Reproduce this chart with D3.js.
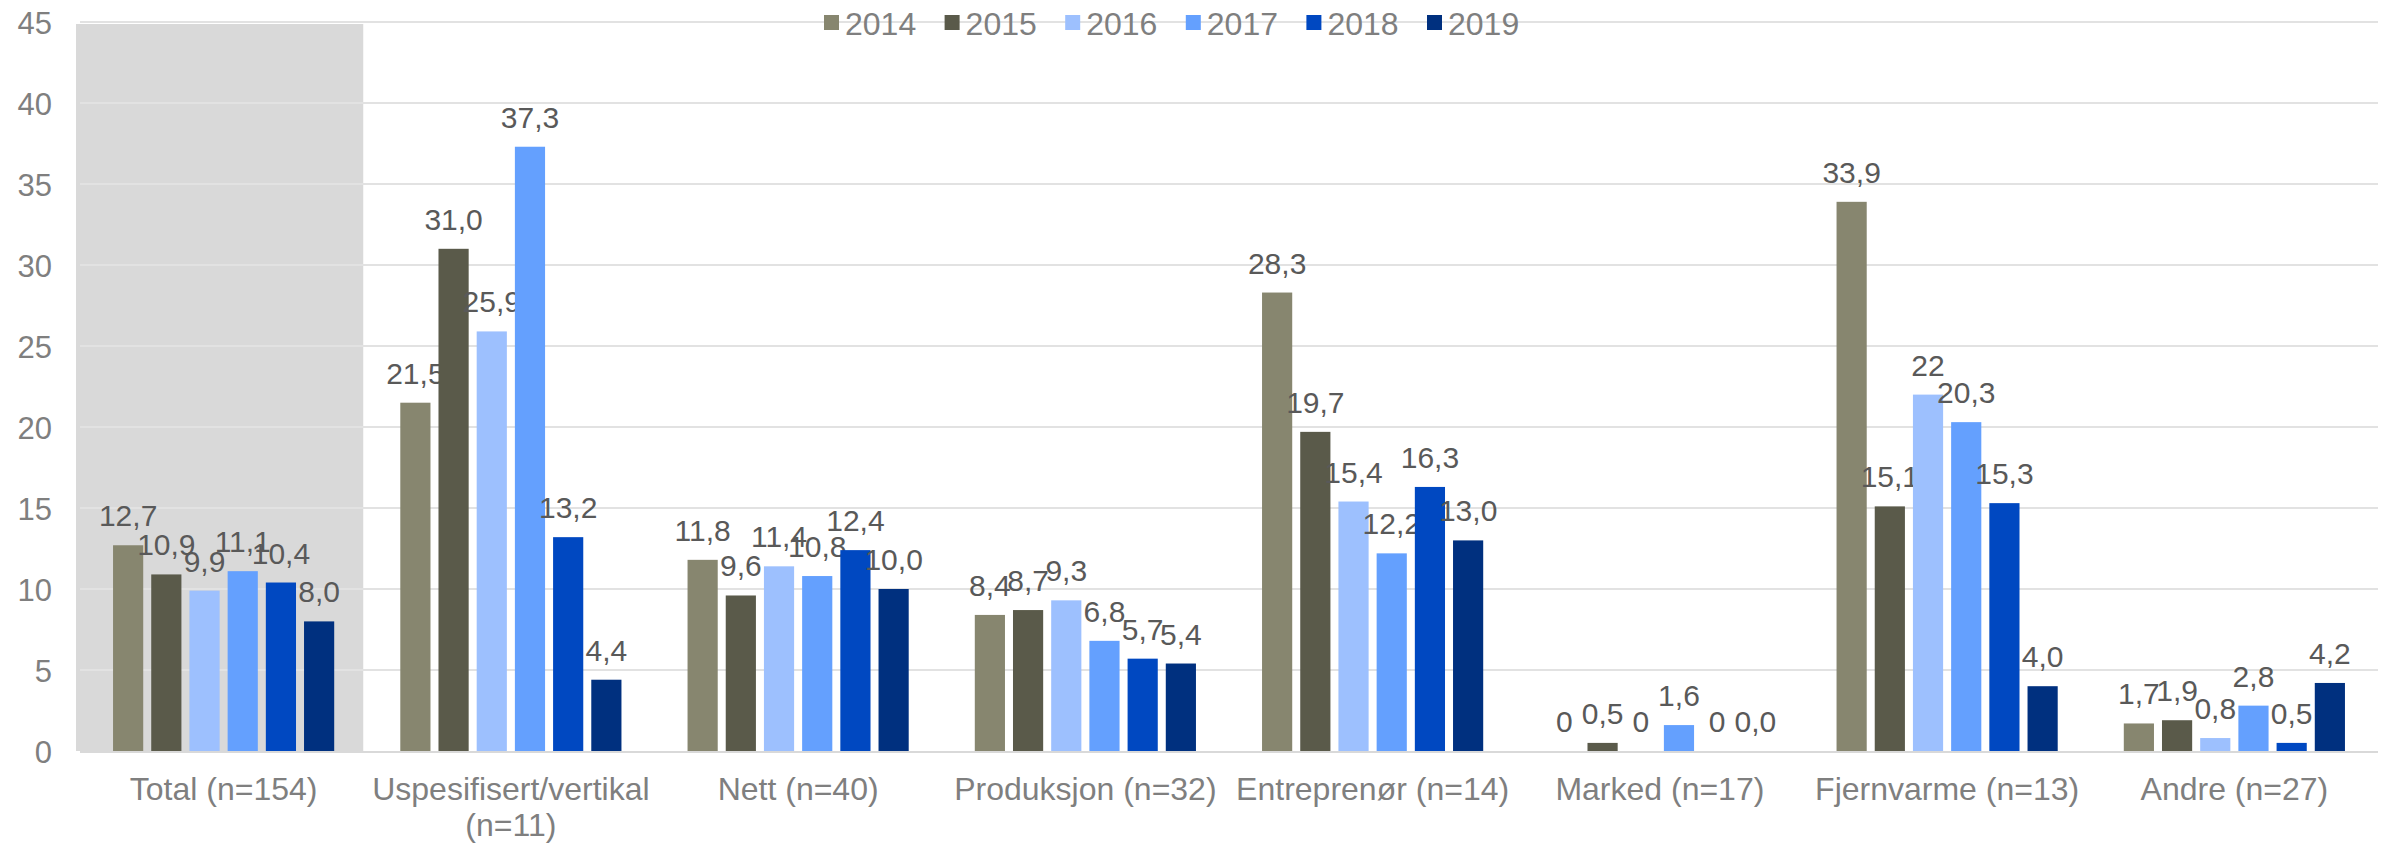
<!DOCTYPE html>
<html>
<head>
<meta charset="utf-8">
<script src="https://cdn.jsdelivr.net/npm/d3@7"></script>
<style>
  body { margin: 0; background: #fff; }
  svg { display: block; font-family: "Liberation Sans", Arial, sans-serif; }
</style>
</head>
<body>
<svg></svg>
<script>
// Set up SVG for D3.
var width = 2387,
    height = 844;

var svg = d3.select("svg")
    .attr("width", width)
    .attr("height", height);

var categories = ["Total (n=154)", "Uspesifisert/vertikal (n=11)", "Nett (n=40)", "Produksjon (n=32)",
                  "Entreprenør (n=14)", "Marked (n=17)", "Fjernvarme (n=13)", "Andre (n=27)"];
// wrapped x-axis labels, one array of lines per category
var categoryLines = [["Total (n=154)"], ["Uspesifisert/vertikal", "(n=11)"], ["Nett (n=40)"], ["Produksjon (n=32)"],
                     ["Entreprenør (n=14)"], ["Marked (n=17)"], ["Fjernvarme (n=13)"], ["Andre (n=27)"]];

var years = ["2014", "2015", "2016", "2017", "2018", "2019"];
var colors = ["#87866f", "#5a5a4a", "#9dc0fe", "#64a0fe", "#0048c1", "#00307f"];

// one array per year, same order as categories
var v2014 = [12.7, 21.5, 11.8, 8.4, 28.3, 0, 33.9, 1.7];
var v2015 = [10.9, 31.0, 9.6, 8.7, 19.7, 0.5, 15.1, 1.9];
var v2016 = [9.9, 25.9, 11.4, 9.3, 15.4, 0, 22, 0.8];
var v2017 = [11.1, 37.3, 10.8, 6.8, 12.2, 1.6, 20.3, 2.8];
var v2018 = [10.4, 13.2, 12.4, 5.7, 16.3, 0, 15.3, 0.5];
var v2019 = [8.0, 4.4, 10.0, 5.4, 13.0, 0.0, 4.0, 4.2];

// data labels as printed (some are shown without decimals)
var l2014 = ["12,7", "21,5", "11,8", "8,4", "28,3", "0", "33,9", "1,7"];
var l2015 = ["10,9", "31,0", "9,6", "8,7", "19,7", "0,5", "15,1", "1,9"];
var l2016 = ["9,9", "25,9", "11,4", "9,3", "15,4", "0", "22", "0,8"];
var l2017 = ["11,1", "37,3", "10,8", "6,8", "12,2", "1,6", "20,3", "2,8"];
var l2018 = ["10,4", "13,2", "12,4", "5,7", "16,3", "0", "15,3", "0,5"];
var l2019 = ["8,0", "4,4", "10,0", "5,4", "13,0", "0,0", "4,0", "4,2"];

var yTicks = [0, 5, 10, 15, 20, 25, 30, 35, 40, 45];

var series = [v2014, v2015, v2016, v2017, v2018, v2019];
var labels = [l2014, l2015, l2016, l2017, l2018, l2019];

var margin = { left: 80, right: 9, top: 22, bottom: 93 };

var x0 = d3.scaleBand()
    .domain(categories)
    .range([margin.left, width - margin.right]);

var x1 = d3.scaleBand()
    .domain(years)
    .range([0, x0.bandwidth()])
    .paddingInner(0.21)
    .paddingOuter(0.865);

var y = d3.scaleLinear()
    .domain([0, 45])
    .range([height - margin.bottom, margin.top]);

// grey highlight behind the Total group
svg.append("rect")
    .attr("x", x0(categories[0]) - 4)
    .attr("y", y(45) + 2)
    .attr("width", x0.bandwidth())
    .attr("height", y(0) - y(45) - 2)
    .attr("fill", "#d9d9d9");

// gridlines
svg.append("g")
  .selectAll("line")
    .data(yTicks.slice(1))
  .enter().append("line")
    .attr("x1", margin.left)
    .attr("x2", width - margin.right)
    .attr("y1", function(d) { return y(d); })
    .attr("y2", function(d) { return y(d); })
    .attr("stroke", "#e2e2e2")
    .attr("stroke-width", 2);

// y axis labels
var yAxis = d3.axisLeft(y).tickValues(yTicks).tickSize(0).tickPadding(0);
svg.append("g")
    .attr("transform", "translate(52,0)")
    .call(yAxis)
    .call(function(g) { g.select(".domain").remove(); })
    .selectAll("text")
    .attr("font-size", 31)
    .attr("font-family", "Liberation Sans, Arial, sans-serif")
    .attr("fill", "#7f7f7f")
    .attr("dy", "0.36em");

// bars
var groups = svg.append("g")
  .selectAll("g")
    .data(years)
  .enter().append("g")
    .attr("fill", function(d, i) { return colors[i]; });

groups.selectAll("rect")
    .data(function(yr, i) {
      return series[i].map(function(v, j) { return { cat: categories[j], year: yr, v: v }; });
    })
  .enter().append("rect")
    .attr("x", function(d) { return x0(d.cat) + x1(d.year); })
    .attr("y", function(d) { return y(d.v); })
    .attr("width", x1.bandwidth())
    .attr("height", function(d) { return y(0) - y(d.v); });

// baseline
svg.append("line")
    .attr("x1", margin.left)
    .attr("x2", width - margin.right)
    .attr("y1", y(0) + 1)
    .attr("y2", y(0) + 1)
    .attr("stroke", "#d9d9d9")
    .attr("stroke-width", 2);

// data labels
groups.selectAll("text")
    .data(function(yr, i) {
      return series[i].map(function(v, j) { return { cat: categories[j], year: yr, v: v, t: labels[i][j] }; });
    })
  .enter().append("text")
    .attr("x", function(d) { return x0(d.cat) + x1(d.year) + x1.bandwidth() / 2; })
    .attr("y", function(d) { return y(d.v) - 19; })
    .attr("text-anchor", "middle")
    .attr("font-size", 30)
    .attr("fill", "#595959")
    .text(function(d) { return d.t; });

// x axis labels
var xl = svg.append("g")
  .selectAll("text")
    .data(categories)
  .enter().append("text")
    .attr("x", function(d) { return x0(d) + x0.bandwidth() / 2; })
    .attr("y", 800)
    .attr("text-anchor", "middle")
    .attr("font-size", 32)
    .attr("fill", "#7f7f7f");

xl.selectAll("tspan")
    .data(function(d, i) { return categoryLines[i]; })
  .enter().append("tspan")
    .attr("x", function() { var p = this.parentNode; return p.getAttribute("x"); })
    .attr("dy", function(d, i) { return i ? 36 : 0; })
    .text(function(d) { return d; });

// legend
var legend = svg.append("g")
  .selectAll("g")
    .data(years)
  .enter().append("g")
    .attr("transform", function(d, i) { return "translate(" + (824 + i * 120.6) + ",23)"; });

legend.append("rect")
    .attr("y", -8)
    .attr("width", 15)
    .attr("height", 15)
    .attr("fill", function(d, i) { return colors[i]; });

legend.append("text")
    .attr("x", 21)
    .attr("y", 12)
    .attr("font-size", 32)
    .attr("fill", "#7f7f7f")
    .text(function(d) { return d; });
</script>
</body>
</html>
